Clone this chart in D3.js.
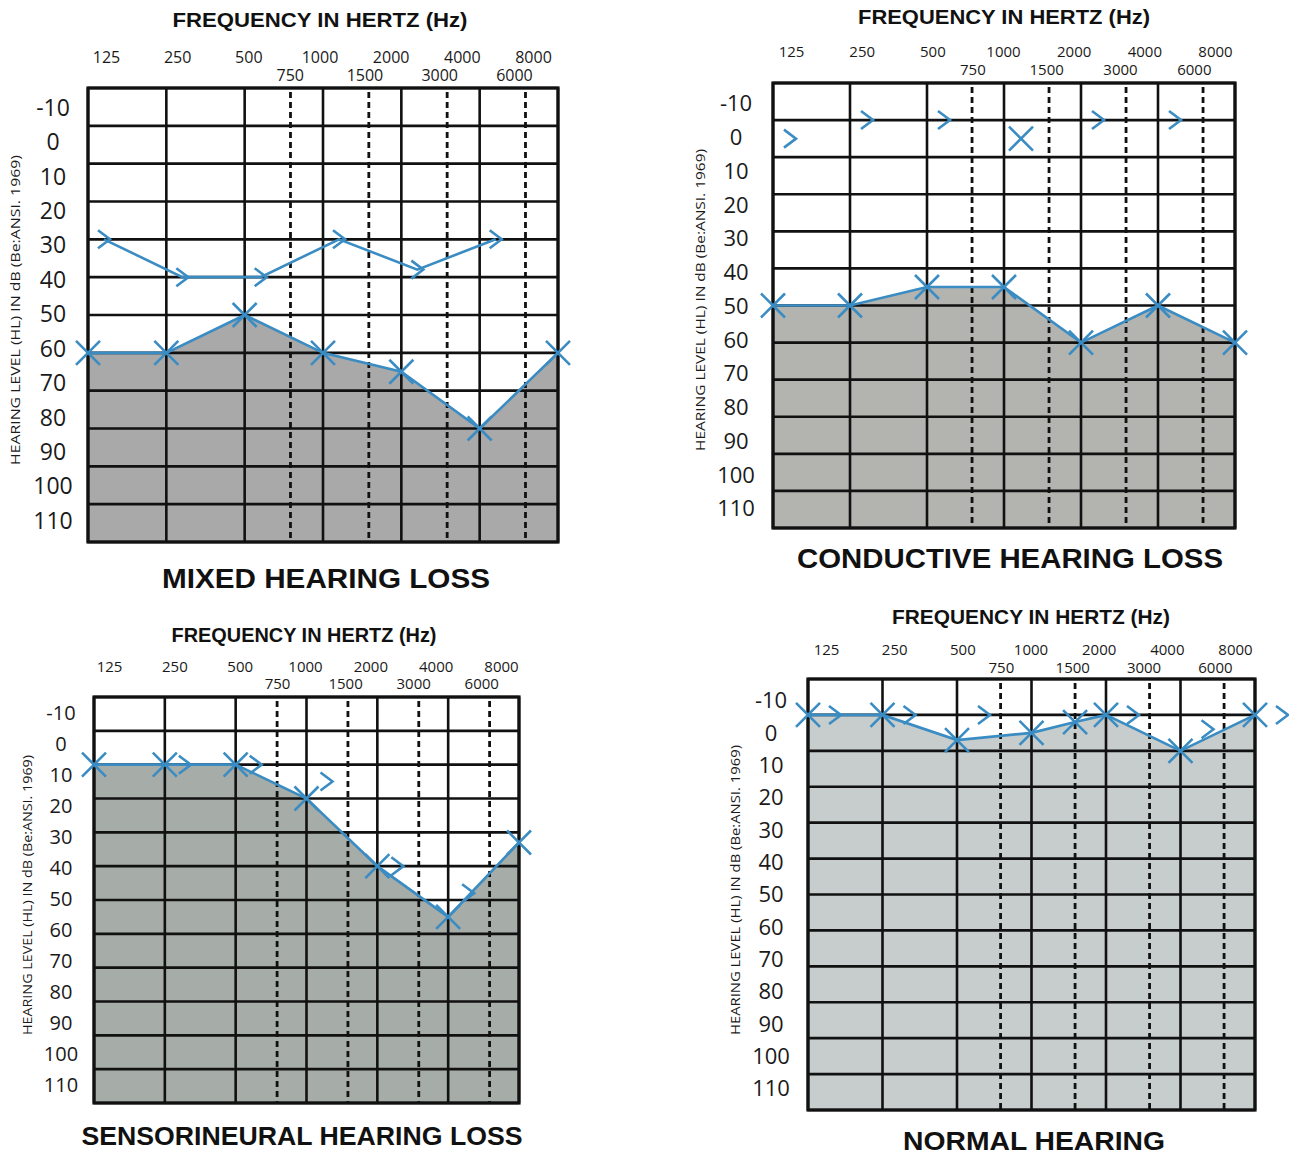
<!DOCTYPE html>
<html>
<head>
<meta charset="utf-8">
<script src="https://cdn.jsdelivr.net/npm/d3@7"></script>
<style>
  html, body { margin: 0; padding: 0; background: #ffffff; }
  svg { display: block; }
</style>
</head>
<body>
<svg id="chart" width="1289" height="1158"></svg>
<script>
// ---------------- DATA ----------------
const octaveFreqs = [125, 250, 500, 1000, 2000, 4000, 8000];
const interFreqs = [750, 1500, 3000, 6000];
const dbTicks = [-10, 0, 10, 20, 30, 40, 50, 60, 70, 80, 90, 100, 110];

const freqAxisTitle = "FREQUENCY IN HERTZ (Hz)";
const levelAxisTitle = "HEARING LEVEL (HL) IN dB (Be:ANSI. 1969)";
const panelTitles = ["MIXED HEARING LOSS", "CONDUCTIVE HEARING LOSS", "SENSORINEURAL HEARING LOSS", "NORMAL HEARING"];

// Mixed hearing loss
const mixedAirFreqs = [125, 250, 500, 1000, 2000, 4000, 8000];
const mixedAir = [60, 60, 50, 60, 65, 80, 60];
const mixedBoneFreqs = [125, 250, 500, 1000, 2000, 4000];
const mixedBone = [30, 40, 40, 30, 38, 30];
const mixedBoneSymbols = [">", ">", ">", ">", ">", ">"];

// Conductive hearing loss
const conductiveAirFreqs = [125, 250, 500, 1000, 2000, 4000, 8000];
const conductiveAir = [50, 50, 45, 45, 60, 50, 60];
const conductiveBoneFreqs = [125, 250, 500, 1000, 2000, 4000];
const conductiveBone = [5, 0, 0, 5, 0, 0];
const conductiveBoneSymbols = [">", ">", ">", "x", ">", ">"];

// Sensorineural hearing loss
const sensoriAirFreqs = [125, 250, 500, 1000, 2000, 4000, 8000];
const sensoriAir = [10, 10, 10, 20, 40, 55, 33];
const sensoriBoneFreqs = [250, 500, 1000, 2000, 4000];
const sensoriBone = [10, 10, 15, 40, 48];
const sensoriBoneSymbols = [">", ">", ">", ">", ">"];

// Normal hearing
const normalAirFreqs = [125, 250, 500, 1000, 1500, 2000, 4000, 8000];
const normalAir = [0, 0, 7, 5, 2, 0, 10, 0];
const normalBoneFreqs = [125, 250, 500, 2000, 4000, 8000];
const normalBone = [0, 0, 0, 0, 4, 0];
const normalBoneSymbols = [">", ">", ">", ">", ">", ">"];

// ---------------- LAYOUT / STYLE ----------------
const panels = [
  { title: panelTitles[0], air: [mixedAirFreqs, mixedAir], bone: [mixedBoneFreqs, mixedBone, mixedBoneSymbols], boneLine: true,
    plot: [88, 558, 88, 542], xLab: [106, 533], yLab: [107, 520], yLabCx: 53, yTickSize: 23, freqSize: 16,
    ftY: 20, ftCx: 320, ftLen: 295, upY: 57, loY: 75, ytX: 15, ytCy: 310, ytLen: 310,
    ttCx: 326, ttY: 578, ttLen: 328, ttSize: 27, fill: "#a9a9a9", boneOff: 16 },
  { title: panelTitles[1], air: [conductiveAirFreqs, conductiveAir], bone: [conductiveBoneFreqs, conductiveBone, conductiveBoneSymbols], boneLine: false,
    plot: [773, 1235, 83, 528], xLab: [791, 1215], yLab: [103, 508], yLabCx: 736, yTickSize: 22, freqSize: 15,
    ftY: 17, ftCx: 1004, ftLen: 292, upY: 52, loY: 70, ytX: 700, ytCy: 300, ytLen: 302,
    ttCx: 1010, ttY: 558, ttLen: 426, ttSize: 27, fill: "#b3b4b0", boneOff: 17 },
  { title: panelTitles[2], air: [sensoriAirFreqs, sensoriAir], bone: [sensoriBoneFreqs, sensoriBone, sensoriBoneSymbols], boneLine: false,
    plot: [94, 519, 697, 1103], xLab: [109, 501], yLab: [712, 1084], yLabCx: 61, yTickSize: 20, freqSize: 15,
    ftY: 635, ftCx: 304, ftLen: 265, upY: 667, loY: 684, ytX: 27, ytCy: 895, ytLen: 280,
    ttCx: 302, ttY: 1136, ttLen: 441, ttSize: 26, fill: "#a6aca8", boneOff: 20 },
  { title: panelTitles[3], air: [normalAirFreqs, normalAir], bone: [normalBoneFreqs, normalBone, normalBoneSymbols], boneLine: false,
    plot: [808, 1255, 679, 1110], xLab: [826, 1235], yLab: [700, 1088], yLabCx: 771, yTickSize: 22, freqSize: 15,
    ftY: 617, ftCx: 1031, ftLen: 278, upY: 650, loY: 668, ytX: 735, ytCy: 890, ytLen: 290,
    ttCx: 1034, ttY: 1141, ttLen: 262, ttSize: 25, fill: "#c6cdcc", boneOff: 27 }
];

const lineColor = "#3a8cc3";
const tickFont = "'Open Sans', 'Noto Sans', sans-serif";
const boldFont = "'Liberation Sans', Arial, sans-serif";

const svg = d3.select("#chart");

function drawPanel(p) {
  const [left, right, top, bottom] = p.plot;
  const g = svg.append("g");

  const x = d3.scaleLog().base(2).domain([125, 8000]).range([left, right]);
  const y = d3.scaleLinear().domain([-10, 110]).range([top, bottom]);
  const xl = d3.scaleLog().base(2).domain([125, 8000]).range(p.xLab);
  const yl = d3.scaleLinear().domain([-10, 110]).range(p.yLab);

  const air = p.air[0].map((f, i) => ({ f, v: p.air[1][i] }));
  const bone = p.bone[0].map((f, i) => ({ f, v: p.bone[1][i], s: p.bone[2][i] }));

  // shaded area below air-conduction curve
  const area = d3.area().x(d => x(d.f)).y0(bottom).y1(d => y(d.v));
  g.append("path").datum(air).attr("d", area).attr("fill", p.fill);

  // horizontal grid
  g.selectAll(".hg").data(dbTicks).join("line")
    .attr("x1", left).attr("x2", right)
    .attr("y1", d => y(d)).attr("y2", d => y(d))
    .attr("stroke", "#111").attr("stroke-width", 2.6);

  // dashed inter-octave lines
  g.selectAll(".dg").data(interFreqs).join("line")
    .attr("x1", d => x(d)).attr("x2", d => x(d))
    .attr("y1", top + 4).attr("y2", bottom)
    .attr("stroke", "#111").attr("stroke-width", 2.8).attr("stroke-dasharray", "6,4");

  // solid octave lines
  g.selectAll(".vg").data(octaveFreqs).join("line")
    .attr("x1", d => x(d)).attr("x2", d => x(d))
    .attr("y1", top).attr("y2", bottom)
    .attr("stroke", "#111").attr("stroke-width", 2.6);

  g.append("rect").attr("x", left).attr("y", top)
    .attr("width", right - left).attr("height", bottom - top)
    .attr("fill", "none").attr("stroke", "#111").attr("stroke-width", 3.2);

  // y tick labels via axis
  const yAxis = d3.axisLeft(yl).tickValues(dbTicks).tickSize(0).tickPadding(0).tickFormat(d => String(d));
  const ya = g.append("g").attr("transform", `translate(${p.yLabCx},0)`).call(yAxis);
  ya.select(".domain").remove();
  ya.selectAll("text")
    .attr("text-anchor", "middle").attr("x", 0)
    .attr("font-family", tickFont).attr("font-size", p.yTickSize)
    .attr("fill", "#1a1a1a").attr("dy", "0.36em");

  // x tick labels (octave row, top) via axis
  const xAxisTop = d3.axisTop(xl).tickValues(octaveFreqs).tickSize(0).tickPadding(0).tickFormat(d => String(d));
  const xt = g.append("g").attr("transform", `translate(0,${p.upY})`).call(xAxisTop);
  xt.select(".domain").remove();
  xt.selectAll("text")
    .attr("font-family", tickFont).attr("font-size", p.freqSize)
    .attr("fill", "#1a1a1a").attr("dy", "0.36em").attr("y", 0);

  // inter-octave labels, positioned between the grid and label scales
  g.selectAll(".il").data(interFreqs).join("text")
    .attr("x", d => (x(d) + xl(d)) / 2).attr("y", p.loY)
    .attr("dy", "0.36em").attr("text-anchor", "middle")
    .attr("font-family", tickFont).attr("font-size", p.freqSize)
    .attr("fill", "#1a1a1a").text(d => d);

  // frequency title
  g.append("text").attr("x", p.ftCx).attr("y", p.ftY).attr("dy", "0.36em")
    .attr("text-anchor", "middle").attr("font-family", boldFont).attr("font-weight", "bold")
    .attr("font-size", 20).attr("textLength", p.ftLen).attr("lengthAdjust", "spacingAndGlyphs")
    .attr("fill", "#111").text(freqAxisTitle);

  // rotated level title
  g.append("text").attr("transform", `translate(${p.ytX},${p.ytCy}) rotate(-90)`)
    .attr("text-anchor", "middle").attr("dy", "0.36em")
    .attr("font-family", tickFont).attr("font-size", 12.5)
    .attr("textLength", p.ytLen).attr("lengthAdjust", "spacingAndGlyphs")
    .attr("fill", "#1a1a1a").text(levelAxisTitle);

  // chart title
  g.append("text").attr("x", p.ttCx).attr("y", p.ttY).attr("dy", "0.36em")
    .attr("text-anchor", "middle").attr("font-family", boldFont).attr("font-weight", "bold")
    .attr("font-size", p.ttSize).attr("textLength", p.ttLen).attr("lengthAdjust", "spacingAndGlyphs")
    .attr("fill", "#111").text(p.title);

  // air conduction line
  const line = d3.line().x(d => x(d.f)).y(d => y(d.v));
  g.append("path").datum(air).attr("d", line)
    .attr("fill", "none").attr("stroke", lineColor).attr("stroke-width", 2.6);

  // bone conduction line (if connected)
  const bx = d => x(d.f) + p.boneOff;
  if (p.boneLine) {
    const bl = d3.line().x(bx).y(d => y(d.v));
    g.append("path").datum(bone).attr("d", bl)
      .attr("fill", "none").attr("stroke", lineColor).attr("stroke-width", 2.6);
  }

  const crossPath = "M-12,-12L12,12M-12,12L12,-12";
  const chevPath = "M-6,-9L6,0L-6,9";

  g.selectAll(".am").data(air).join("path")
    .attr("transform", d => `translate(${x(d.f)},${y(d.v)})`)
    .attr("d", crossPath).attr("fill", "none")
    .attr("stroke", lineColor).attr("stroke-width", 2.6);

  g.selectAll(".bm").data(bone).join("path")
    .attr("transform", d => `translate(${bx(d)},${y(d.v)})`)
    .attr("d", d => d.s === "x" ? crossPath : chevPath).attr("fill", "none")
    .attr("stroke", lineColor).attr("stroke-width", 2.6);
}

panels.forEach(drawPanel);
</script>
</body>
</html>
